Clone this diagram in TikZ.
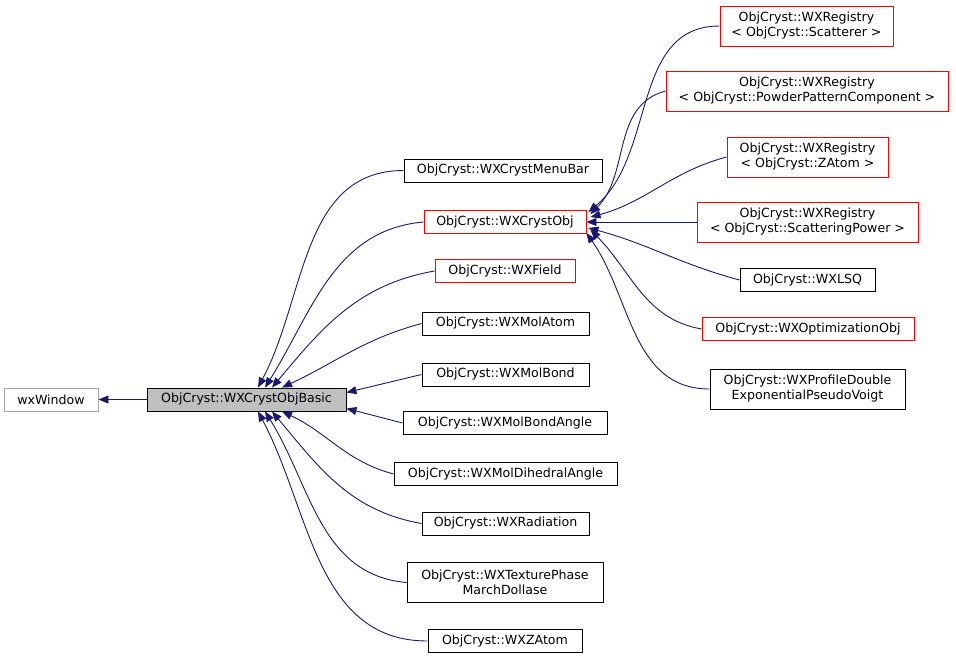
\documentclass[tikz,border=0pt]{standalone}
\usepackage{fontspec}
\setmainfont{DejaVu Sans}
\usetikzlibrary{arrows.meta}
\definecolor{navy}{HTML}{191970}
\definecolor{basegray}{HTML}{BFBFBF}
\tikzset{
  cls/.style={draw=black, fill=white, font=\fontsize{12.6}{15}\selectfont, align=center,
    inner sep=2pt, minimum height=23pt, line width=0.9pt},
  tall/.style={minimum height=40pt},
  red cls/.style={cls, draw=red},
  inh/.style={<-, draw=navy, line width=0.9pt, >={Triangle[width=8pt,length=10pt,fill=navy]}}
}
\begin{document}
\begin{tikzpicture}[x=1pt,y=-1pt]
  \useasboundingbox (0,0) rectangle (956,662);

  % base classes
  \node[cls, draw=gray!70, minimum width=94pt] (wxwindow) at (51,399.5) {wxWindow};
  \node[cls, fill=basegray, minimum width=199pt] (basic) at (246.5,399.5) {ObjCryst::WXCrystObjBasic};

  % middle column
  \node[cls, minimum width=198pt] (menubar) at (503,170.5) {ObjCryst::WXCrystMenuBar};
  \node[red cls, minimum width=162pt] (crystobj) at (505,222) {ObjCryst::WXCrystObj};
  \node[red cls, minimum width=140pt] (field) at (505,271) {ObjCryst::WXField};
  \node[cls, minimum width=167pt] (molatom) at (505.5,323.5) {ObjCryst::WXMolAtom};
  \node[cls, minimum width=167pt] (molbond) at (505.5,374.5) {ObjCryst::WXMolBond};
  \node[cls, minimum width=204pt] (molangle) at (505,423) {ObjCryst::WXMolBondAngle};
  \node[cls, minimum width=223pt] (moldihedral) at (505.5,474) {ObjCryst::WXMolDihedralAngle};
  \node[cls, minimum width=167pt] (radiation) at (505.5,523.5) {ObjCryst::WXRadiation};
  \node[cls, tall, minimum width=196pt] (texture) at (505,582.5) {ObjCryst::WXTexturePhase\\MarchDollase};
  \node[cls, minimum width=154pt] (zatom) at (505,641) {ObjCryst::WXZAtom};

  % right column
  \node[red cls, tall, minimum width=173pt] (regscat) at (806.5,26) {ObjCryst::WXRegistry\\< ObjCryst::Scatterer >};
  \node[red cls, tall, minimum width=282pt] (regpowder) at (807,91) {ObjCryst::WXRegistry\\< ObjCryst::PowderPatternComponent >};
  \node[red cls, tall, minimum width=161pt] (regzatom) at (807.5,157) {ObjCryst::WXRegistry\\< ObjCryst::ZAtom >};
  \node[red cls, tall, minimum width=221pt] (regpower) at (807.5,222) {ObjCryst::WXRegistry\\< ObjCryst::ScatteringPower >};
  \node[cls, minimum width=135pt] (lsq) at (807.5,280) {ObjCryst::WXLSQ};
  \node[red cls, minimum width=212pt] (optim) at (808,329) {ObjCryst::WXOptimizationObj};
  \node[cls, tall, minimum width=195pt] (profile) at (807.5,389) {ObjCryst::WXProfileDouble\\ExponentialPseudoVoigt};

  % inheritance
  \draw[inh] (wxwindow) -- (basic);
  \draw[inh] ([xshift=11.5]basic.north) to[out=62,in=180] (menubar.west);
  \draw[inh] ([xshift=18.5]basic.north) to[out=58,in=185] (crystobj.west);
  \draw[inh] ([xshift=25.5]basic.north) to[out=50,in=190] (field.west);
  \draw[inh] ([xshift=35.5]basic.north) to[out=25,in=195] (molatom.west);
  \draw[inh] ([yshift=7]basic.east) -- (molbond.west);
  \draw[inh] ([yshift=-9]basic.east) -- (molangle.west);
  \draw[inh] ([xshift=35.5]basic.south) to[out=-25,in=165] (moldihedral.west);
  \draw[inh] ([xshift=25.5]basic.south) to[out=-50,in=170] (radiation.west);
  \draw[inh] ([xshift=18.5]basic.south) to[out=-58,in=175] (texture.west);
  \draw[inh] ([xshift=11.5]basic.south) to[out=-62,in=180] (zatom.west);

  \draw[inh] ([xshift=2,yshift=-2]crystobj.north east) to[out=40,in=180] (regscat.west);
  \draw[inh] ([xshift=4,yshift=-4]crystobj.north east) to[out=45,in=195] (regpowder.west);
  \draw[inh] ([xshift=4,yshift=-7]crystobj.north east) to[out=15,in=195] (regzatom.west);
  \draw[inh] (crystobj.east) -- (regpower.west);
  \draw[inh] ([xshift=2,yshift=6]crystobj.south east) to[out=-15,in=165] (lsq.west);
  \draw[inh] ([xshift=4,yshift=4]crystobj.south east) to[out=-45,in=170] (optim.west);
  \draw[inh] ([yshift=1]crystobj.south east) to[out=-55,in=180] (profile.west);
\end{tikzpicture}
\end{document}
